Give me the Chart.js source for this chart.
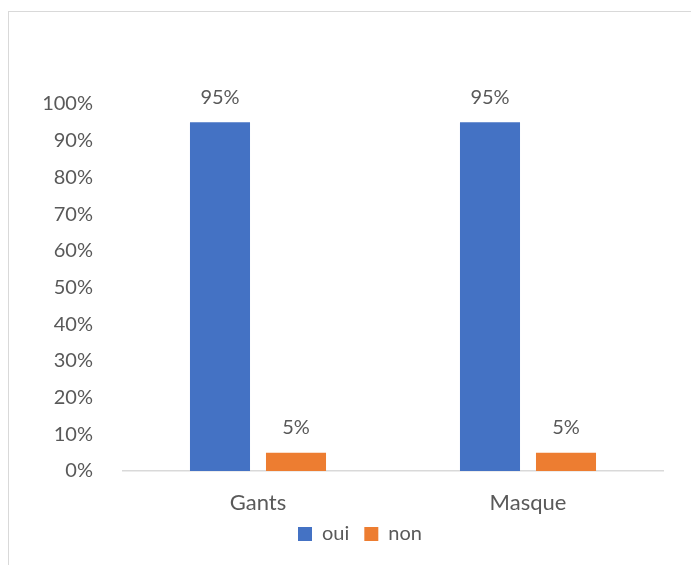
<!DOCTYPE html>
<html>
<head>
<meta charset="utf-8">
<script src="https://cdn.jsdelivr.net/npm/chart.js@4/dist/chart.umd.min.js"></script>
<style>
  html, body { margin: 0; padding: 0; background: #fff; }
  #frame {
    position: absolute; left: 8px; top: 11px;
    width: 700px; height: 600px;
    border: 1px solid #d9d9d9; box-sizing: border-box;
  }
  #wrap { position: absolute; left: 0; top: 0; width: 691px; height: 565px; }
</style>
</head>
<body>
<div id="frame"></div>
<div id="wrap"><canvas id="chart"></canvas></div>
<script>
const categories = ['Gants', 'Masque'];
const seriesNames = ['oui', 'non'];
const ouiValues = [95, 95];
const nonValues = [5, 5];
const yTicks = [0, 10, 20, 30, 40, 50, 60, 70, 80, 90, 100];

const textColor = '#595959';
const fontFamily = 'Lato, "Open Sans", sans-serif';

// draws the value above each bar
const valueLabels = {
    id: 'valueLabels',
    afterDatasetsDraw(chart) {
        const ctx = chart.ctx;
        ctx.save();
        ctx.fillStyle = textColor;
        ctx.font = '20px ' + fontFamily;
        ctx.textAlign = 'center';
        ctx.textBaseline = 'middle';
        chart.data.datasets.forEach((ds, i) => {
            chart.getDatasetMeta(i).data.forEach((bar, j) => {
                ctx.fillText(ds.data[j] + '%', bar.x, bar.y - 25);
            });
        });
        ctx.restore();
    }
};

// nudge the legend box a little (up and right)
const legendNudge = {
    id: 'legendNudge',
    afterLayout(chart) {
        const lg = chart.legend;
        lg.top -= 8; lg.bottom -= 8;
        lg.left += 7; lg.right += 7;
    }
};

const canvas = document.getElementById('chart');
const config = {
    type: 'bar',
    data: {
        labels: categories,
        datasets: [
            { label: seriesNames[0], data: ouiValues, backgroundColor: '#4472C4' },
            { label: seriesNames[1], data: nonValues, backgroundColor: '#ED7D31' }
        ]
    },
    options: {
        responsive: true,
        maintainAspectRatio: false,
        animation: false,
        categoryPercentage: 0.563,
        barPercentage: 0.79,
        layout: { padding: { left: 43, right: 28, top: 104, bottom: 3 } },
        plugins: {
            tooltip: { enabled: false },
            legend: {
                position: 'bottom',
                labels: {
                    color: textColor,
                    font: { family: fontFamily, size: 20 },
                    boxWidth: 14,
                    boxHeight: 14,
                    padding: 15
                }
            }
        },
        scales: {
            x: {
                grid: { display: false },
                border: { color: '#d9d9d9', width: 1.5 },
                ticks: { color: textColor, font: { family: fontFamily, size: 22 }, padding: 11 },
                afterFit(scale) { scale.height = 46; }
            },
            y: {
                min: 0,
                max: 100,
                afterBuildTicks(scale) { scale.ticks = yTicks.map(v => ({ value: v })); },
                grid: { display: false },
                border: { display: false },
                ticks: {
                    color: textColor,
                    font: { family: fontFamily, size: 20 },
                    padding: 22,
                    callback: v => v + '%'
                },
                afterFit(scale) { scale.width = 80; }
            }
        }
    },
    plugins: [valueLabels, legendNudge]
};
let chart = new Chart(canvas, config);
</script>
</body>
</html>
